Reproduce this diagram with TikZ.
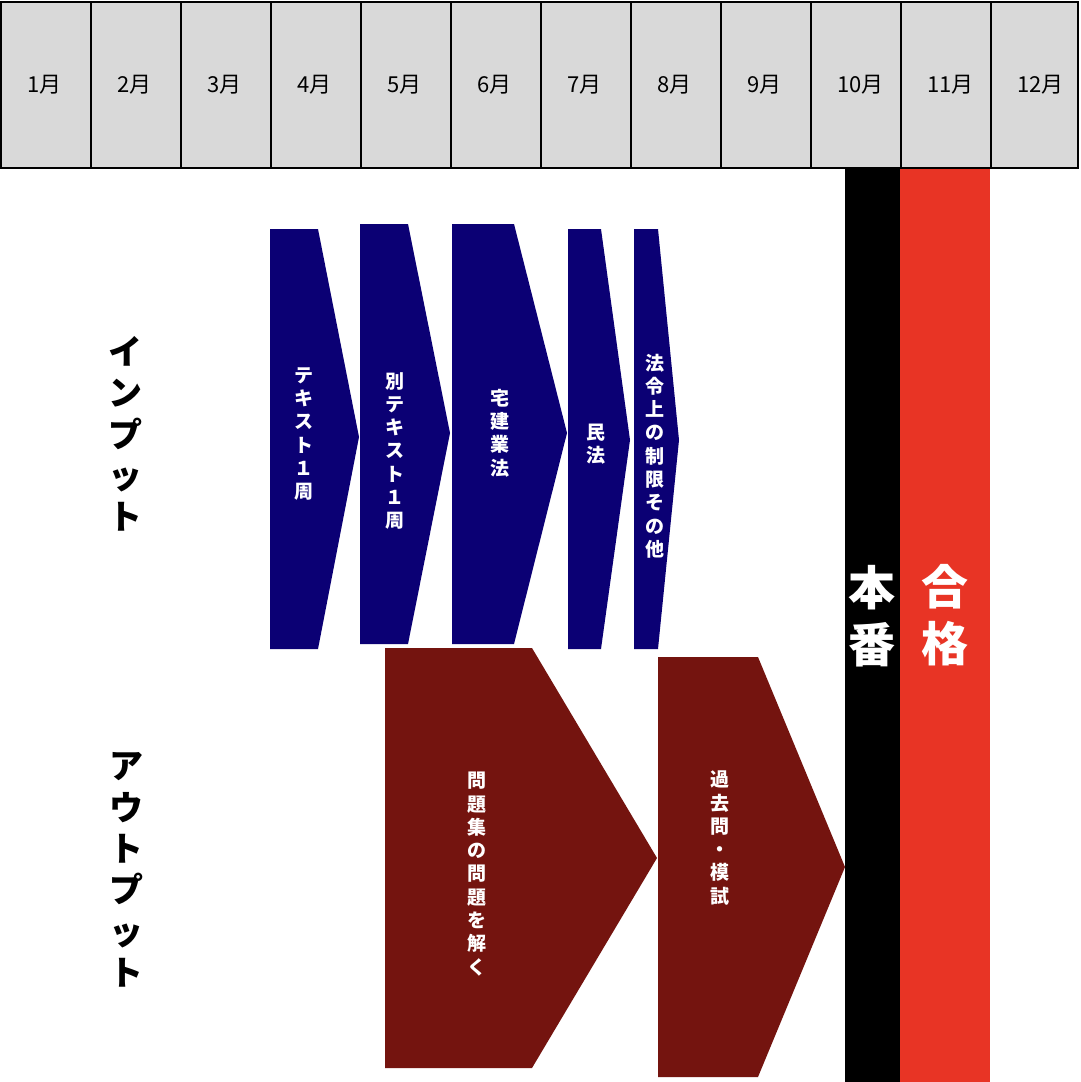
\documentclass[tikz,border=0pt]{standalone}
\usepackage{fontspec}
\newfontfamily\jp{Noto Sans CJK JP}
\definecolor{hdrgray}{HTML}{D9D9D9}
\definecolor{navyc}{HTML}{0B0074}
\definecolor{maroonc}{HTML}{74140F}
\definecolor{redbar}{HTML}{E83425}
\tikzset{
  month/.style={font=\jp\fontsize{22}{24}\selectfont, text=black, inner sep=0, anchor=west},
  cell/.style={draw=black, line width=2pt, fill=hdrgray},
  vtext/.style={text=white, font=\jp\bfseries\fontsize{19}{23.3}\selectfont, align=center, inner sep=0},
  bigtext/.style={text=black, font=\jp\bfseries\fontsize{34}{41.3}\selectfont, align=center, inner sep=0},
  bartext/.style={text=white, font=\jp\bfseries\fontsize{47}{57}\selectfont, align=center, inner sep=0},
}
\begin{document}
\begin{tikzpicture}[x=1pt,y=-1pt]
\useasboundingbox (0,0) rectangle (1080,1082);
\fill[white] (0,0) rectangle (1080,1082);
% header
\foreach \i in {0,...,10} {
  \draw[cell] ({\i*90+1},2) rectangle ({\i*90+91},168);
  \node[month] (m\i) at ({\i*90+27},85) {\number\numexpr\i+1\relax 月};
}
\draw[cell] (991,2) rectangle (1078,168);
\node[month] (m11) at (1017,85) {12月};
% bars
\fill[black] (845,169) rectangle (900,1082);
\fill[redbar] (900,169) rectangle (990,1082);
\node[bartext] (honban) at (872,616) {本\\番};
\node[bartext] (goukaku) at (945,615) {合\\格};
% input chevrons
\fill[navyc] (270,229) -- (318,229) -- (359,437) -- (318,649) -- (270,649) -- cycle;
\fill[navyc] (360,224) -- (408,224) -- (450,433) -- (408,644) -- (360,644) -- cycle;
\fill[navyc] (452,224) -- (514,224) -- (567,433) -- (514,644) -- (452,644) -- cycle;
\fill[navyc] (568,229) -- (601,229) -- (630,440) -- (601,649) -- (568,649) -- cycle;
\fill[navyc] (634,229) -- (658,229) -- (679,440) -- (658,649) -- (634,649) -- cycle;
\node[vtext] (t1) at (304,434) {テ\\キ\\ス\\ト\\１\\周};
\node[vtext] (t2) at (395,451) {別\\テ\\キ\\ス\\ト\\１\\周};
\node[vtext] (t3) at (500,433) {宅\\建\\業\\法};
\node[vtext] (t4) at (596,444) {民\\法};
\node[vtext] (t5) at (655,456) {法\\令\\上\\の\\制\\限\\そ\\の\\他};
% output chevrons
\fill[maroonc] (385,648) -- (532,648) -- (657,858) -- (532,1068) -- (385,1068) -- cycle;
\fill[maroonc] (658,657) -- (758,657) -- (845,867) -- (758,1077) -- (658,1077) -- cycle;
\node[vtext] (o1) at (477,874) {問\\題\\集\\の\\問\\題\\を\\解\\く};
\node[vtext] (o2) at (720,838) {過\\去\\問\\・\\模\\試};
% side labels
\node[bigtext] (inp) at (125,434) {イ\\ン\\プ\\ッ\\ト};
\node[bigtext] (outp) at (126,870) {ア\\ウ\\ト\\プ\\ッ\\ト};
\end{tikzpicture}
\end{document}
